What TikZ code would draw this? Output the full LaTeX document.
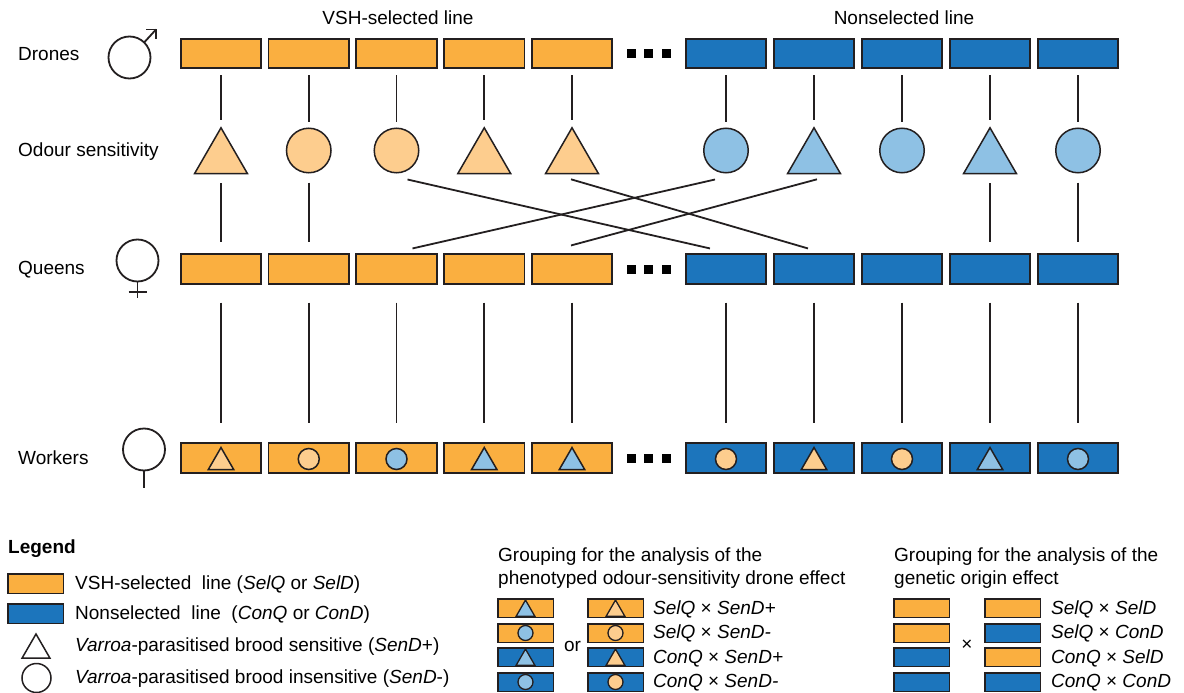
\documentclass[tikz,border=0pt]{standalone}
\usepackage{fontspec}
\setmainfont{Liberation Sans}
\usetikzlibrary{calc,shapes.geometric}
\definecolor{orgA}{HTML}{FAAF40}
\definecolor{bluA}{HTML}{1C75BC}
\definecolor{orgL}{HTML}{FDCD8E}
\definecolor{bluL}{HTML}{8EC1E4}
\definecolor{ink}{HTML}{231F20}
\begin{document}
\begin{tikzpicture}[x=1pt,y=-1pt,
  every node/.style={font=\fontsize{19}{22}\selectfont},
  lab/.style={inner sep=0pt, anchor=west, text height=13.6pt, text depth=0pt},
  ctxt/.style={inner sep=0pt, text height=13.6pt, text depth=0pt},
  conn/.style={draw=ink, line width=1.8pt},
  cell/.style={draw=ink, line width=1.6pt, minimum width=80.5pt, minimum height=29.5pt, inner sep=0pt},
  ocell/.style={cell, fill=orgA},
  bcell/.style={cell, fill=bluA},
  lcell/.style={draw=ink, line width=1.5pt, minimum width=55.5pt, minimum height=18.5pt, inner sep=0pt},
  locell/.style={lcell, fill=orgA},
  lbcell/.style={lcell, fill=bluA},
  tribig/.style={regular polygon, regular polygon sides=3, draw=ink, line width=1.5pt, inner sep=0pt, minimum size=61pt, yshift=-7.8pt},
  circbig/.style={circle, draw=ink, line width=1.5pt, inner sep=0pt, minimum size=44.5pt},
  trimid/.style={regular polygon, regular polygon sides=3, draw=ink, line width=1.5pt, inner sep=0pt, minimum size=29.5pt, yshift=-4.3pt},
  circmid/.style={circle, draw=ink, line width=1.5pt, inner sep=0pt, minimum size=21pt, yshift=-1pt},
  trisml/.style={regular polygon, regular polygon sides=3, draw=ink, line width=1.3pt, inner sep=0pt, minimum size=21.5pt, yshift=-2.8pt},
  circsml/.style={circle, draw=ink, line width=1.3pt, inner sep=0pt, minimum size=15pt},
  sexsym/.style={draw=ink, line width=1.8pt},
  dot/.style={fill=black}
]
\useasboundingbox (0,0) rectangle (1184,693);
\fill[white] (0,0) rectangle (1184,693);

% titles
\node[ctxt] (tsel) at (398,18) {VSH-selected line};
\node[ctxt] (tnon) at (904,18) {Nonselected line};

% row labels
\node[lab] (ldr) at (18,53.5) {Drones};
\node[lab] (lod) at (18,150) {Odour sensitivity};
\node[lab] (lqu) at (18,268) {Queens};
\node[lab] (lwo) at (18,457.5) {Workers};

% sex symbols
\draw[sexsym] (129.5,57.5) circle (21);
\draw[sexsym] (144.3,42.3) -- (156,29.5);
\draw[sexsym] (146,29.5) -- (156,29.5) -- (156,39.5);
\draw[sexsym] (137.5,260.5) circle (21);
\draw[sexsym] (137.5,281.5) -- (137.5,298);
\draw[sexsym] (128.5,291.7) -- (146.5,291.7);
\draw[sexsym] (144,449.5) circle (21);
\draw[sexsym] (144,470.5) -- (144,488);

% cells
\foreach \i/\x in {1/221,2/308.75,3/396.5,4/484.25,5/572}{
  \node[ocell] (d\i) at (\x,53.5) {};
  \node[ocell] (q\i) at (\x,269) {};
  \node[ocell] (w\i) at (\x,458) {};
}
\foreach \i/\x in {6/726,7/814,8/902,9/990,10/1078}{
  \node[bcell] (d\i) at (\x,53.5) {};
  \node[bcell] (q\i) at (\x,269) {};
  \node[bcell] (w\i) at (\x,458) {};
}

% ellipsis dots
\foreach \yy in {53.5,269,458}{
  \foreach \xx in {631.5,648.5,666.5}{
    \fill[dot] (\xx-4.5,\yy-4.5) rectangle (\xx+4.5,\yy+4.5);
  }
}

% odour sensitivity symbols
\foreach \i/\x/\s/\c in {1/221/tribig/orgL,2/308.75/circbig/orgL,3/396.5/circbig/orgL,4/484.25/tribig/orgL,5/572/tribig/orgL,
  6/726/circbig/bluL,7/814/tribig/bluL,8/902/circbig/bluL,9/990/tribig/bluL,10/1078/circbig/bluL}{
  \node[\s, fill=\c] (o\i) at (\x,150.5) {};
}

% worker symbols
\foreach \i/\s/\c in {1/trimid/orgL,2/circmid/orgL,3/circmid/bluL,4/trimid/bluL,5/trimid/bluL,
  6/circmid/orgL,7/trimid/orgL,8/circmid/orgL,9/trimid/bluL,10/circmid/bluL}{
  \node[\s, fill=\c] (ws\i) at (w\i.center) {};
}

% connectors
\foreach \i in {1,...,10}{
  \draw[conn, shorten <=6pt, shorten >=6pt] (d\i) -- (o\i);
  \draw[conn, shorten <=18pt, shorten >=19pt] (q\i) -- (w\i);
}
\foreach \i in {1,2,9,10}{
  \draw[conn, shorten <=9pt, shorten >=11pt] (o\i) -- (q\i);
}
\draw[conn] ($(o3.south)+(11,6)$) -- ($(q6.north)+(-16,-5)$);
\draw[conn] ($(o5.south)+(-1,5)$) -- ($(q7.north)+(-6,-5)$);
\draw[conn] ($(o6.south)+(-11,6)$) -- ($(q3.north)+(16,-5)$);
\draw[conn] ($(o7.south)+(3,5)$) -- ($(q5.north)+(-1,-8)$);

% legend
\node[lab, font=\fontsize{19}{22}\selectfont\bfseries] (leg) at (8,547) {Legend};
\node[draw=ink, line width=1.5pt, fill=orgA, minimum width=55.5pt, minimum height=19.5pt, inner sep=0pt] (lgo) at (35.5,583.5) {};
\node[draw=ink, line width=1.5pt, fill=bluA, minimum width=55.5pt, minimum height=19.5pt, inner sep=0pt] (lgb) at (35.5,613.5) {};
\node[regular polygon, regular polygon sides=3, draw=ink, line width=1.5pt, inner sep=0pt, minimum size=32pt, fill=white] (lgt) at (36,650) {};
\node[circle, draw=ink, line width=1.5pt, inner sep=0pt, minimum size=29pt, fill=white] (lgc) at (36.5,678) {};
\node[lab] (lgot) at (75,583) {VSH-selected\ \ line (\textit{SelQ} or \textit{SelD})};
\node[lab] (lgbt) at (75,613) {Nonselected\ \ line\ \ (\textit{ConQ} or \textit{ConD})};
\node[lab] (lgtt) at (75,645) {\textit{Varroa}-parasitised brood sensitive (\textit{SenD}+)};
\node[lab] (lgct) at (75,677) {\textit{Varroa}-parasitised brood insensitive (\textit{SenD}-)};

% grouping: odour sensitivity
\node[lab] (g1a) at (498,555) {Grouping for the analysis of the};
\node[lab] (g1b) at (498,578) {phenotyped odour-sensitivity drone effect};
\foreach \r/\y/\cl/\s in {1/608/locell/trisml,2/633/locell/circsml,3/657/lbcell/trisml,4/682/lbcell/circsml}{
  \node[\cl] (ga\r) at (525.5,\y) {};
  \node[\s, fill=bluL] (gas\r) at (ga\r.center) {};
  \node[\cl] (gb\r) at (615.5,\y) {};
  \node[\s, fill=orgL] (gbs\r) at (gb\r.center) {};
}
\node[ctxt] (gor) at (572.5,645) {or};
\node[lab] (gl1) at (653,608) {\textit{SelQ} × \textit{SenD+}};
\node[lab] (gl2) at (653,632) {\textit{SelQ} × \textit{SenD-}};
\node[lab] (gl3) at (653,657) {\textit{ConQ} × \textit{SenD+}};
\node[lab] (gl4) at (653,681) {\textit{ConQ} × \textit{SenD-}};

% grouping: genetic origin
\node[lab] (h1a) at (894,555) {Grouping for the analysis of the};
\node[lab] (h1b) at (894,578) {genetic origin effect};
\foreach \r/\y/\ca/\cb in {1/608/locell/locell,2/633/locell/lbcell,3/657/lbcell/locell,4/682/lbcell/lbcell}{
  \node[\ca] (ha\r) at (921.5,\y) {};
  \node[\cb] (hb\r) at (1012.5,\y) {};
}
\node[ctxt] (hx) at (967,644) {×};
\node[lab] (hl1) at (1051,608) {\textit{SelQ} × \textit{SelD}};
\node[lab] (hl2) at (1051,632) {\textit{SelQ} × \textit{ConD}};
\node[lab] (hl3) at (1051,657) {\textit{ConQ} × \textit{SelD}};
\node[lab] (hl4) at (1051,681) {\textit{ConQ} × \textit{ConD}};
\end{tikzpicture}
\end{document}
